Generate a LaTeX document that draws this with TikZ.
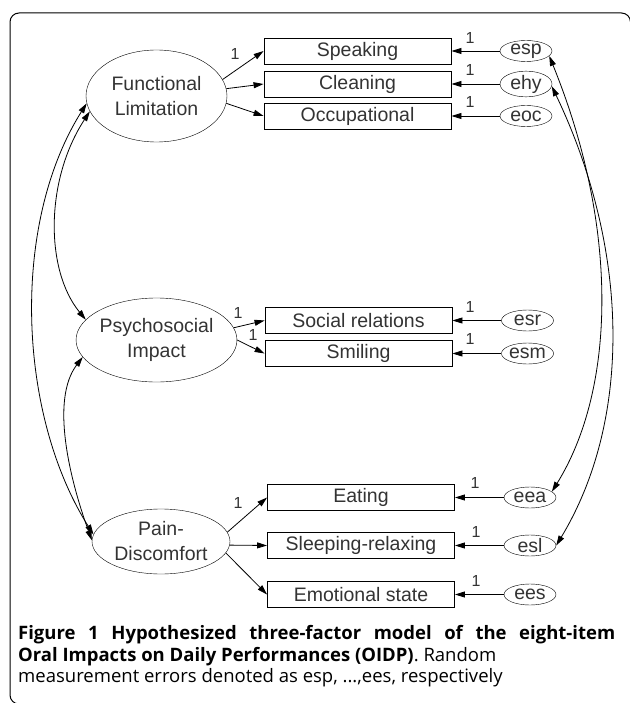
\documentclass[tikz,border=0pt]{standalone}
\usepackage{fontspec}
\setmainfont{Liberation Sans}
\newfontfamily\capfont{Open Sans}
\usetikzlibrary{shapes.geometric,arrows.meta}
\definecolor{ink}{gray}{0.2}

\begin{document}
\begin{tikzpicture}[x=1pt, y=1pt,
    every node/.style={text=ink, font=\fontsize{19.5}{22}\selectfont},
    factor/.style={draw, ellipse, minimum width=141pt, inner sep=0pt, align=center, font=\fontsize{19.5}{25}\selectfont},
    item/.style={draw, rectangle, minimum width=187pt, minimum height=26pt, inner sep=0pt, line width=0.9pt},
    err/.style={draw, ellipse, minimum width=52pt, minimum height=21pt, inner sep=0pt},
    one/.style={font=\fontsize{16}{16}\selectfont, inner sep=0pt},
    load/.style={-{Triangle[length=10pt,width=6pt]}, line width=0.8pt},
    cov/.style={{Triangle[length=10pt,width=6pt]}-{Triangle[length=10pt,width=6pt]}, line width=0.8pt},
    capline/.style={anchor=base west, inner sep=0pt, text=black}]
    \useasboundingbox (0,0) rectangle (629,-703);

    % frame
    \draw[line width=1pt, rounded corners=9pt] (60,-704) -- (10,-704) -- (10,-13) -- (630.5,-13) -- (630.5,-80);

    % factors
    \node[factor, minimum height=92pt] (fl) at (156.5,-96) {Functional\\Limitation};
    \node[factor, minimum height=84pt] (psi) at (156.5,-340) {Psychosocial\\Impact};
    \node[factor, minimum width=138pt, minimum height=65pt] (pd) at (161,-541.5) {Pain-\\Discomfort};

    % items
    \node[item] (spk) at (357.5,-51) {Speaking}; \node[item] (cln) at (357.5,-84) {Cleaning}; \node[item] (occ) at (357.5,-116) {Occupational};
    \node[item] (soc) at (358.5,-320.5) {Social relations}; \node[item] (smi) at (358.5,-353.5) {Smiling};
    \node[item] (eat) at (361,-497.5) {Eating}; \node[item] (slp) at (361,-545.5) {Sleeping-relaxing}; \node[item] (emo) at (361,-594.5) {Emotional state};

    % errors
    \node[err] (esp) at (526,-51) {esp}; \node[err] (ehy) at (526,-84) {ehy}; \node[err] (eoc) at (526,-116) {eoc};
    \node[err] (esr) at (527.5,-320.5) {esr}; \node[err] (esm) at (527.5,-353.5) {esm};
    \node[err] (eea) at (530,-497.5) {eea}; \node[err] (esl) at (530,-545.5) {esl}; \node[err] (ees) at (530,-594.5) {ees};

    % loadings
    \draw[load] (fl.14) -- (spk.west); \draw[load] (fl.6) -- (cln.west); \draw[load] (fl.-6) -- (occ.west);
    \draw[load] (psi.9) -- (soc.west); \draw[load] (psi.0) -- (smi.west);
    \draw[load] (pd.8) -- (eat.west); \draw[load] (pd.-3) -- (slp.west); \draw[load] (pd.-10) -- (emo.west);
    \node[one] (lfl) at (235,-54) {1}; \node[one] (lpsa) at (238,-313) {1}; \node[one] (lpsb) at (253,-335) {1}; \node[one] (lpd) at (238,-503) {1};

    % error paths
    \draw[load] (esp) -- (spk); \draw[load] (ehy) -- (cln); \draw[load] (eoc) -- (occ);
    \draw[load] (esr) -- (soc); \draw[load] (esm) -- (smi);
    \draw[load] (eea) -- (eat); \draw[load] (esl) -- (slp); \draw[load] (ees) -- (emo);
    \node[one] (lesp) at (470,-38) {1}; \node[one] (lehy) at (470,-70) {1}; \node[one] (leoc) at (470,-102) {1};
    \node[one] (lesr) at (470,-307) {1}; \node[one] (lesm) at (470,-339) {1};
    \node[one] (leea) at (475,-483) {1}; \node[one] (lesl) at (476,-532) {1}; \node[one] (lees) at (476,-581) {1};

    % covariances
    \draw[cov] (fl.186) .. controls (10,-225) and (18,-415) .. (pd.174);
    \draw[cov] (fl.193) .. controls (45,-180) and (45,-270) .. (psi.164);
    \draw[cov] (psi.193) .. controls (50,-400) and (70,-480) .. (pd.179);
    \draw[cov] (esp.-12) .. controls (620,-230) and (615,-390) .. (eea.15);
    \draw[cov] (ehy.-5) .. controls (630,-250) and (632,-420) .. (esl.0);

    % caption
    \node[capline, font=\capfont\fontsize{18.5}{22}\selectfont\bfseries] (cap1) at (18,-639) {\makebox[597pt][s]{Figure 1 Hypothesized three-factor model of the eight-item}};
    \node[capline, font=\capfont\fontsize{18.5}{22}\selectfont] (cap2) at (18,-661) {\textbf{Oral Impacts on Daily Performances (OIDP)}. Random};
    \node[capline, font=\capfont\fontsize{18.5}{22}\selectfont] (cap3) at (18,-682) {measurement errors denoted as esp, ...,ees, respectively};
\end{tikzpicture}
\end{document}
